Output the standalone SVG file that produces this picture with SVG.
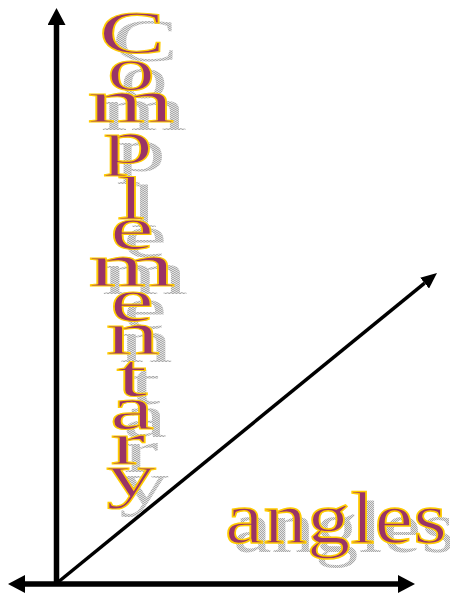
<svg xmlns="http://www.w3.org/2000/svg" width="450" height="595" viewBox="0 0 450 595">
  <defs>
    <pattern id="dots" width="2" height="2" patternUnits="userSpaceOnUse">
      <rect width="2" height="2" fill="#e4e4e4"/>
      <rect width="1" height="1" fill="#a8a8a8"/>
      <rect x="1" y="1" width="1" height="1" fill="#a8a8a8"/>
    </pattern>
    <marker id="axisHead" markerUnits="userSpaceOnUse" markerWidth="17" markerHeight="18" refX="0" refY="9" orient="auto-start-reverse" viewBox="0 0 17 18">
      <path d="M0,0 L17,9 L0,18 z" fill="#000"/>
    </marker>
    <marker id="rayHead" markerUnits="userSpaceOnUse" markerWidth="16" markerHeight="14" refX="0" refY="7" orient="auto" viewBox="0 0 16 14">
      <path d="M0,0 L16,7 L0,14 z" fill="#000"/>
    </marker>
  </defs>
  <style>
    .axis { stroke: #000; stroke-width: 5.5; fill: none; }
    .ray { stroke: #000; stroke-width: 3.5; fill: none; }
    .lt { font-family: "Liberation Serif", "Times New Roman", serif; font-size: 62px; text-anchor: middle; }
    .ang { font-family: "Liberation Serif", "Times New Roman", serif; font-size: 74px; }
    .main { fill: #993366; stroke: #FFCC00; stroke-width: 1.5; }
    .main text { vector-effect: non-scaling-stroke; }
    .shadow { fill: url(#dots); }
  </style>

  <g id="connectors">
    <line class="axis" x1="56.5" y1="586" x2="56.5" y2="25" marker-end="url(#axisHead)"/>
    <line class="axis" x1="25" y1="584" x2="398" y2="584" marker-start="url(#axisHead)" marker-end="url(#axisHead)"/>
    <line class="ray" x1="57" y1="583" x2="424.6" y2="283.1" marker-end="url(#rayHead)"/>
  </g>

  <g id="complementary">
    <g class="shadow" transform="translate(13,8)">
      <text class="lt" transform="translate(132,53) scale(1.6,1)">C</text>
      <text class="lt" transform="translate(131,90) scale(1.55,1)">o</text>
      <text class="lt" transform="translate(131,122) scale(1.8,1)">m</text>
      <text class="lt" transform="translate(128,163) scale(1.6,1)">p</text>
      <text class="lt" transform="translate(131,219) scale(1.6,1)">l</text>
      <text class="lt" transform="translate(132,249) scale(1.6,1)">e</text>
      <text class="lt" transform="translate(132,286) scale(1.8,1)">m</text>
      <text class="lt" transform="translate(132,321) scale(1.6,1)">e</text>
      <text class="lt" transform="translate(133,354) scale(1.75,1)">n</text>
      <text class="lt" transform="translate(132,396) scale(1.8,1)">t</text>
      <text class="lt" transform="translate(132,429) scale(1.6,1)">a</text>
      <text class="lt" transform="translate(128,464) scale(1.7,1)">r</text>
      <text class="lt" transform="translate(131,496) scale(1.6,1)">y</text>
    </g>
    <g class="main">
      <text class="lt" transform="translate(132,53) scale(1.6,1)">C</text>
      <text class="lt" transform="translate(131,90) scale(1.55,1)">o</text>
      <text class="lt" transform="translate(131,122) scale(1.8,1)">m</text>
      <text class="lt" transform="translate(128,163) scale(1.6,1)">p</text>
      <text class="lt" transform="translate(131,219) scale(1.6,1)">l</text>
      <text class="lt" transform="translate(132,249) scale(1.6,1)">e</text>
      <text class="lt" transform="translate(132,286) scale(1.8,1)">m</text>
      <text class="lt" transform="translate(132,321) scale(1.6,1)">e</text>
      <text class="lt" transform="translate(133,354) scale(1.75,1)">n</text>
      <text class="lt" transform="translate(132,396) scale(1.8,1)">t</text>
      <text class="lt" transform="translate(132,429) scale(1.6,1)">a</text>
      <text class="lt" transform="translate(128,464) scale(1.7,1)">r</text>
      <text class="lt" transform="translate(131,496) scale(1.6,1)">y</text>
    </g>
  </g>

  <g id="angles">
    <text class="ang shadow" x="233" y="552" textLength="222" lengthAdjust="spacingAndGlyphs">angles</text>
    <text class="ang main" x="225" y="543" textLength="222" lengthAdjust="spacingAndGlyphs">angles</text>
  </g>
</svg>
